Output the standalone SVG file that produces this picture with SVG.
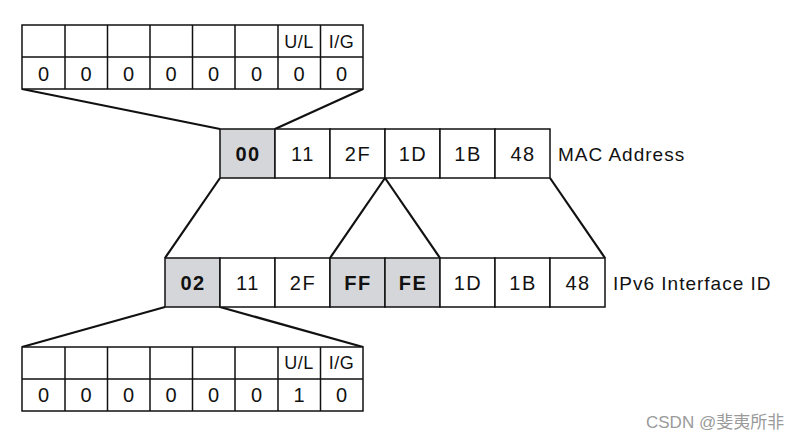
<svg xmlns="http://www.w3.org/2000/svg" width="798" height="440" viewBox="0 0 798 440">
<style>
.cell{fill:#fff;stroke:#111;stroke-width:1.5}
.g{fill:#d5d6d9}
.t{font-family:"Liberation Sans",Arial,sans-serif;font-size:20px;fill:#111;text-anchor:middle;dominant-baseline:central;letter-spacing:1.5px}
.d{font-size:20px;letter-spacing:0}
.h{font-size:18px;letter-spacing:0.5px}
.b{font-weight:bold}
.lbl{font-family:"Liberation Sans",Arial,sans-serif;font-size:19px;fill:#111;dominant-baseline:central;letter-spacing:1px}
.ln{stroke:#111;stroke-width:2.2;fill:none}
.wm{font-family:"Liberation Sans","Noto Sans CJK SC",sans-serif;font-size:17px;fill:#9a9a9a}
</style>
<rect width="798" height="440" fill="#fff"/>
<g id="connectors">
<line class="ln" x1="22" y1="89" x2="220" y2="129"/>
<line class="ln" x1="363" y1="89" x2="275" y2="129"/>
<line class="ln" x1="220" y1="178" x2="165" y2="258"/>
<line class="ln" x1="385" y1="178" x2="330" y2="258"/>
<line class="ln" x1="385" y1="178" x2="440" y2="258"/>
<line class="ln" x1="550" y1="178" x2="605" y2="258"/>
<line class="ln" x1="165" y1="307" x2="22" y2="347"/>
<line class="ln" x1="220" y1="307" x2="363" y2="347"/>
</g>
<g id="top-bits">
<rect class="cell" x="22" y="25" width="341" height="64"/>
<path class="cell" d="M22 57H363M65 25V89M107.5 25V89M150 25V89M192.5 25V89M235 25V89M278 25V89M320.5 25V89"/>
<text class="t h" x="299" y="42">U/L</text><text class="t h" x="341.5" y="42">I/G</text>
<text class="t d" x="43.5" y="74">0</text><text class="t d" x="86" y="74">0</text><text class="t d" x="128.5" y="74">0</text><text class="t d" x="171" y="74">0</text><text class="t d" x="213.5" y="74">0</text><text class="t d" x="256.5" y="74">0</text><text class="t d" x="299" y="74">0</text><text class="t d" x="341.5" y="74">0</text>
</g>
<g id="mac">
<rect class="cell g" x="220" y="129" width="55" height="49"/>
<rect class="cell" x="275" y="129" width="55" height="49"/>
<rect class="cell" x="330" y="129" width="55" height="49"/>
<rect class="cell" x="385" y="129" width="55" height="49"/>
<rect class="cell" x="440" y="129" width="55" height="49"/>
<rect class="cell" x="495" y="129" width="55" height="49"/>
<text class="t b" x="248" y="154">00</text><text class="t" x="303" y="154">11</text><text class="t" x="358" y="154">2F</text><text class="t" x="413" y="154">1D</text><text class="t" x="468" y="154">1B</text><text class="t" x="523" y="154">48</text>
<text class="lbl" x="558" y="154">MAC Address</text>
</g>
<g id="ipv6">
<rect class="cell g" x="165" y="258" width="55" height="49"/>
<rect class="cell" x="220" y="258" width="55" height="49"/>
<rect class="cell" x="275" y="258" width="55" height="49"/>
<rect class="cell g" x="330" y="258" width="55" height="49"/>
<rect class="cell g" x="385" y="258" width="55" height="49"/>
<rect class="cell" x="440" y="258" width="55" height="49"/>
<rect class="cell" x="495" y="258" width="55" height="49"/>
<rect class="cell" x="550" y="258" width="55" height="49"/>
<text class="t b" x="193" y="283">02</text><text class="t" x="248" y="283">11</text><text class="t" x="303" y="283">2F</text><text class="t b" x="358" y="283">FF</text><text class="t b" x="413" y="283">FE</text><text class="t" x="468" y="283">1D</text><text class="t" x="523" y="283">1B</text><text class="t" x="578" y="283">48</text>
<text class="lbl" x="613" y="283">IPv6 Interface ID</text>
</g>
<g id="bottom-bits">
<rect class="cell" x="22" y="347" width="341" height="64"/>
<path class="cell" d="M22 379H363M65 347V411M107.5 347V411M150 347V411M192.5 347V411M235 347V411M278 347V411M320.5 347V411"/>
<text class="t h" x="299" y="363">U/L</text><text class="t h" x="341.5" y="363">I/G</text>
<text class="t d" x="43.5" y="395">0</text><text class="t d" x="86" y="395">0</text><text class="t d" x="128.5" y="395">0</text><text class="t d" x="171" y="395">0</text><text class="t d" x="213.5" y="395">0</text><text class="t d" x="256.5" y="395">0</text><text class="t d" x="299" y="395">1</text><text class="t d" x="341.5" y="395">0</text>
</g>
<text class="wm" x="646" y="428">CSDN @斐夷所非</text>
</svg>
